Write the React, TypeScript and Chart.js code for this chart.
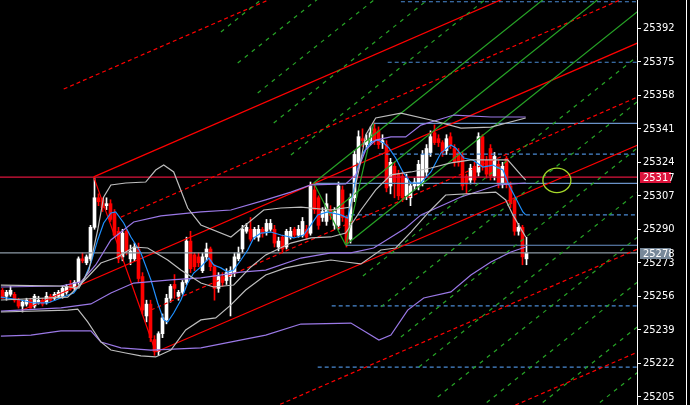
import { useEffect, useRef } from 'react';
import { Chart, registerables } from 'chart.js';

Chart.register(...registerables);

// candles, one per bar index
const opens = [
  25259, 25256, 25257, 25257, 25254, 25251, 25252, 25254, 25251, 25253, 25254, 25253, 25256, 25255, 25256, 25256,
  25258, 25262, 25260, 25263, 25275, 25273, 25275, 25291, 25306, 25305, 25302, 25303, 25298, 25289, 25276, 25289,
  25275, 25275, 25280, 25266, 25246, 25252, 25234, 25228, 25237, 25244, 25255, 25262, 25256, 25258, 25263, 25284,
  25277, 25276, 25269, 25276, 25280, 25271, 25260, 25266, 25264, 25266, 25268, 25275, 25280, 25289, 25290, 25286,
  25286, 25290, 25289, 25290, 25290, 25281, 25286, 25281, 25286, 25290, 25287, 25287, 25290, 25288, 25310, 25306,
  25296, 25294, 25300, 25292, 25292, 25310, 25296, 25285, 25306, 25324, 25336, 25333, 25334, 25341, 25340, 25334,
  25333, 25312, 25322, 25318, 25317, 25307, 25306, 25312, 25312, 25314, 25319, 25329, 25339, 25336, 25334, 25330,
  25337, 25331, 25329, 25327, 25317, 25315, 25322, 25319, 25337, 25325, 25331, 25317, 25323, 25313, 25326, 25312,
  25305, 25289, 25291, 25275,
];
const highs = [
  25260, 25259, 25261, 25258, 25255, 25254, 25255, 25255, 25257, 25256, 25255, 25258, 25257, 25258, 25259, 25261,
  25262, 25264, 25264, 25276, 25278, 25277, 25292, 25316, 25308, 25306, 25306, 25305, 25300, 25291, 25290, 25290,
  25282, 25283, 25283, 25268, 25254, 25254, 25236, 25238, 25247, 25257, 25262, 25267, 25259, 25264, 25286, 25289,
  25278, 25278, 25278, 25283, 25281, 25272, 25268, 25268, 25270, 25271, 25278, 25281, 25292, 25293, 25296, 25291,
  25292, 25291, 25295, 25295, 25292, 25286, 25287, 25290, 25291, 25291, 25292, 25296, 25292, 25314, 25312, 25307,
  25301, 25308, 25302, 25301, 25314, 25312, 25297, 25308, 25330, 25340, 25341, 25338, 25342, 25344, 25342, 25338,
  25335, 25326, 25324, 25320, 25319, 25318, 25314, 25316, 25325, 25330, 25333, 25340, 25343, 25338, 25335, 25338,
  25339, 25333, 25331, 25329, 25318, 25323, 25324, 25339, 25338, 25327, 25333, 25329, 25325, 25324, 25327, 25314,
  25306, 25293, 25292, 25286,
];
const lows = [
  25255, 25254, 25256, 25253, 25250, 25248, 25251, 25250, 25250, 25252, 25251, 25252, 25253, 25254, 25255, 25255,
  25257, 25259, 25259, 25262, 25273, 25272, 25274, 25290, 25302, 25299, 25300, 25294, 25286, 25273, 25274, 25277,
  25272, 25274, 25263, 25247, 25243, 25233, 25226, 25226, 25235, 25242, 25253, 25255, 25254, 25257, 25262, 25268,
  25269, 25271, 25268, 25274, 25269, 25254, 25258, 25261, 25262, 25246, 25266, 25274, 25278, 25288, 25284, 25285,
  25284, 25286, 25287, 25289, 25281, 25279, 25278, 25280, 25285, 25286, 25286, 25286, 25285, 25287, 25298, 25290,
  25294, 25292, 25295, 25290, 25290, 25294, 25281, 25283, 25304, 25322, 25332, 25331, 25333, 25333, 25331, 25331,
  25309, 25308, 25306, 25305, 25304, 25305, 25302, 25310, 25310, 25312, 25317, 25327, 25333, 25332, 25327, 25328,
  25331, 25322, 25322, 25310, 25308, 25313, 25313, 25317, 25320, 25316, 25315, 25315, 25311, 25311, 25311, 25301,
  25287, 25287, 25272, 25272,
];
const closes = [
  25255, 25258, 25259, 25254, 25251, 25253, 25254, 25250, 25256, 25254, 25252, 25256, 25254, 25257, 25258, 25260,
  25261, 25260, 25263, 25275, 25274, 25276, 25291, 25306, 25304, 25301, 25303, 25295, 25287, 25275, 25288, 25279,
  25279, 25281, 25265, 25249, 25252, 25235, 25228, 25237, 25245, 25255, 25261, 25260, 25258, 25263, 25284, 25270,
  25271, 25273, 25276, 25280, 25271, 25260, 25266, 25263, 25268, 25269, 25276, 25278, 25290, 25291, 25285, 25290,
  25290, 25288, 25293, 25293, 25283, 25284, 25280, 25289, 25289, 25287, 25290, 25294, 25286, 25312, 25300, 25292,
  25299, 25303, 25297, 25299, 25312, 25296, 25283, 25306, 25328, 25337, 25335, 25335, 25339, 25335, 25333, 25335,
  25311, 25324, 25314, 25307, 25306, 25316, 25312, 25314, 25323, 25328, 25331, 25337, 25334, 25334, 25329, 25336,
  25333, 25324, 25324, 25312, 25313, 25321, 25315, 25337, 25322, 25318, 25317, 25327, 25313, 25322, 25313, 25303,
  25289, 25291, 25276, 25278,
];

// indicator lines: [bar index, price]
const blueMa = [
  [-0.4, 25255.6], [4.6, 25254.1], [7.8, 25252.6], [11.3, 25252.6], [14.6, 25255.1], [17.8, 25257.7], [20.3, 25264.3],
  [22.1, 25272.9], [23.8, 25284.6], [25.3, 25293.2], [27.1, 25298.3], [28.3, 25298.8], [30.3, 25293.2], [32.1, 25286.1],
  [34.6, 25278.0], [37.1, 25264.3], [38.8, 25252.6], [40.3, 25244.0], [41.3, 25242.9], [42.8, 25247.5], [44.6, 25254.1],
  [46.3, 25262.7], [47.8, 25267.8], [49.6, 25270.9], [51.6, 25275.4], [52.8, 25271.9], [54.6, 25270.4], [56.3, 25268.3],
  [57.8, 25269.3], [59.6, 25274.4], [61.3, 25279.5], [62.8, 25285.6], [64.6, 25288.1], [67.1, 25288.6], [69.6, 25287.1],
  [72.8, 25285.6], [75.3, 25287.1], [77.1, 25292.2], [78.8, 25297.3], [81.3, 25298.8], [84.6, 25297.3], [86.3, 25295.7],
  [87.6, 25307.4], [88.8, 25321.1], [90.3, 25329.2], [92.1, 25334.3], [93.8, 25335.3], [95.3, 25333.8], [96.6, 25331.3],
  [98.3, 25326.2], [100.1, 25319.1], [102.1, 25313.5], [104.6, 25313.5], [107.1, 25319.1], [109.6, 25328.7],
  [112.1, 25332.8], [113.3, 25331.3], [115.3, 25326.2], [117.6, 25325.2], [120.1, 25321.6], [122.6, 25322.6],
  [125.1, 25320.1], [126.6, 25312.5], [128.3, 25305.9], [130.1, 25298.8], [130.8, 25297.3],
];
const purpleUpper = [
  [-0.4, 25260.7], [14.6, 25261.2], [19.6, 25263.3], [23.3, 25271.9], [27.1, 25284.6], [32.8, 25293.7], [39.6, 25296.8],
  [49.6, 25298.8], [57.1, 25299.8], [65.8, 25304.9], [72.1, 25308.9], [77.1, 25312.5], [85.8, 25313.0], [88.3, 25317.6],
  [90.8, 25330.3], [93.3, 25335.3], [97.1, 25336.9], [100.8, 25336.9], [104.6, 25342.9], [109.6, 25346.0],
  [112.8, 25348.0], [122.1, 25347.0], [130.8, 25347.0],
];
const purpleMid = [
  [-0.4, 25248.5], [14.6, 25250.1], [22.1, 25252.1], [27.1, 25257.7], [32.8, 25262.7], [42.1, 25264.3], [49.6, 25265.3],
  [59.6, 25268.3], [65.8, 25269.3], [74.6, 25275.4], [82.1, 25278.0], [87.1, 25278.0], [92.8, 25280.5], [100.8, 25290.7],
  [104.6, 25297.3], [114.6, 25306.4], [123.8, 25312.5], [130.8, 25313.5],
];
const purpleLower = [
  [-0.4, 25235.8], [7.1, 25236.3], [14.6, 25238.4], [22.1, 25238.4], [24.6, 25232.8], [29.6, 25229.8], [37.1, 25228.7],
  [49.6, 25229.8], [65.8, 25236.3], [74.6, 25241.9], [87.1, 25242.4], [90.8, 25237.9], [94.1, 25233.8], [97.1, 25236.3],
  [101.3, 25249.0], [105.3, 25255.1], [112.1, 25258.2], [117.1, 25266.8], [122.1, 25273.4], [127.1, 25278.5],
  [130.8, 25281.0],
];
const grayUpper = [
  [-0.4, 25261.7], [14.6, 25261.2], [19.1, 25260.2], [21.6, 25269.3], [23.8, 25289.6], [25.3, 25306.4], [27.1, 25312.5],
  [30.8, 25313.5], [35.8, 25314.0], [38.3, 25320.1], [40.3, 25322.6], [42.8, 25319.1], [46.3, 25300.8], [49.6, 25292.2],
  [57.1, 25286.1], [65.3, 25299.8], [69.6, 25300.8], [74.6, 25301.3], [82.1, 25299.8], [87.1, 25301.3], [89.1, 25320.1],
  [90.8, 25337.9], [93.3, 25346.5], [99.6, 25349.0], [107.1, 25345.5], [114.6, 25341.4], [122.1, 25341.9],
  [130.8, 25346.5],
];
const grayMid = [
  [-0.4, 25254.1], [16.3, 25255.6], [21.3, 25265.8], [24.6, 25272.9], [28.8, 25275.9], [32.8, 25281.0], [36.3, 25280.5],
  [41.3, 25274.4], [44.6, 25269.3], [49.6, 25262.7], [52.8, 25260.7], [57.8, 25261.7], [62.1, 25270.9], [65.8, 25277.0],
  [72.1, 25283.0], [77.1, 25285.6], [82.1, 25286.1], [85.8, 25288.1], [89.6, 25299.8], [93.3, 25310.0], [97.1, 25317.6],
  [102.1, 25319.1], [107.1, 25321.1], [112.1, 25323.7], [117.1, 25325.2], [122.1, 25325.2], [126.3, 25325.2],
  [129.6, 25317.6], [130.8, 25315.0],
];
const grayLower = [
  [-0.4, 25248.0], [16.3, 25249.0], [18.8, 25249.5], [21.3, 25243.0], [24.6, 25232.8], [27.1, 25228.7], [30.8, 25227.2],
  [34.6, 25225.7], [38.3, 25225.2], [42.1, 25228.7], [45.8, 25238.9], [49.6, 25244.0], [53.3, 25245.0], [57.1, 25251.6],
  [60.8, 25259.2], [65.8, 25266.8], [70.8, 25270.4], [75.8, 25272.4], [82.1, 25274.4], [85.8, 25273.4], [89.6, 25272.4],
  [94.6, 25279.5], [98.3, 25280.5], [102.1, 25288.6], [106.6, 25298.8], [110.8, 25307.4], [119.1, 25308.4],
  [123.3, 25308.9], [125.8, 25304.9], [127.6, 25297.3], [130.8, 25286.1],
];

// drawn objects: [x0, price0, x1, price1]
const redForkLines = [
  [22.8, 25316.6, 158.8, 25436.7],
  [5.0, 25249.0, 158.8, 25384.6],
  [38.3, 25227.7, 158.8, 25332.8],
  [22.8, 25316.6, 38.3, 25227.7],
];
const redDashLines = [
  [15.3, 25361.2, 158.8, 25488.0],
  [29.6, 25296.2, 158.8, 25410.3],
  [37.1, 25249.0, 158.8, 25357.2],
  [64.6, 25196.9, 158.8, 25280.0],
  [125.0, 25197.9, 158.8, 25227.7],
];
const greenSolidLines = [
  [77.8, 25313.5, 158.8, 25445.0],
  [81.8, 25297.8, 158.8, 25422.8],
  [85.8, 25282.0, 158.8, 25400.6],
  [77.8, 25313.5, 85.8, 25282.0],
  [85.8, 25282.0, 92.8, 25343.8],
];
const greenDashLines = [
  [54.6, 25390.2, 158.8, 25559.4],
  [58.8, 25374.4, 158.8, 25536.8],
  [63.8, 25359.2, 158.8, 25513.5],
  [67.8, 25344.0, 158.8, 25491.8],
  [72.1, 25327.7, 158.8, 25468.5],
  [90.1, 25266.3, 158.8, 25377.9],
  [94.6, 25250.6, 158.8, 25354.9],
  [99.6, 25235.3, 158.8, 25331.4],
  [104.1, 25220.1, 158.8, 25308.9],
  [108.8, 25204.9, 158.8, 25286.1],
  [119.3, 25199.2, 158.8, 25263.3],
  [133.3, 25199.2, 158.8, 25240.6],
  [147.6, 25199.2, 158.8, 25217.4],
];
// horizontal levels: [start index, price]
const levelSolid = [[92.8, 25343.8], [77.8, 25313.3], [85.8, 25281.9]];
const levelDashed = [[99.6, 25405.5], [96.3, 25374.8], [94.1, 25328.2], [87.1, 25297.3], [82.3, 25251.1], [78.8, 25220.0]];
const highLevel = 25316.5;
const bidLevel = 25278;
const circleCenter = [138.6, 25314.8];
const circleRadius = [3.5, 6.2];

const priceTicks = [25205, 25222, 25239, 25256, 25273, 25290, 25307, 25324, 25341, 25358, 25375, 25392];
const X_MIN = -0.625;
const X_MAX = X_MIN + 637 / 4;
const Y_MIN = 25200.8;
const Y_MAX = 25406.4;

const FONT = '"Liberation Sans Narrow", "DejaVu Sans Condensed", "Liberation Sans", sans-serif';

function lineDs(points: number[][], color: string, dash: number[] = [], width = 1.2) {
  return {
    type: 'line' as const,
    data: points.map(([x, y]) => ({ x, y })),
    borderColor: color,
    borderWidth: width,
    borderDash: dash,
    pointRadius: 0,
    tension: 0,
    fill: false,
    order: 1,
  };
}

const overlay = {
  id: 'overlay',
  beforeDraw(chart: Chart) {
    const { ctx } = chart;
    ctx.save();
    ctx.fillStyle = '#000';
    ctx.fillRect(0, 0, chart.width, chart.height);
    ctx.restore();
  },
  afterDraw(chart: Chart) {
    const { ctx, chartArea } = chart;
    const xs = chart.scales.x;
    const ys = chart.scales.y;
    ctx.save();
    // marker ellipse
    const cx = xs.getPixelForValue(circleCenter[0]);
    const cy = ys.getPixelForValue(circleCenter[1]);
    const rx = Math.abs(xs.getPixelForValue(circleCenter[0] + circleRadius[0]) - cx);
    const ry = Math.abs(ys.getPixelForValue(circleCenter[1] + circleRadius[1]) - cy);
    ctx.strokeStyle = '#a6d92a';
    ctx.lineWidth = 1.3;
    ctx.beginPath();
    ctx.ellipse(cx, cy, rx, ry, 0, 0, Math.PI * 2);
    ctx.stroke();
    // price tags on the axis
    const tags: [number, string][] = [[highLevel, '#dc143c'], [bidLevel, '#778899']];
    ctx.font = `11px ${FONT}`;
    ctx.textBaseline = 'middle';
    for (const [v, color] of tags) {
      const py = Math.round(ys.getPixelForValue(v));
      ctx.fillStyle = color;
      ctx.fillRect(chartArea.right + 3, py - 5, 31, 11);
      ctx.fillStyle = '#fff';
      ctx.fillText(String(Math.round(v)), chartArea.right + 6, py + 1);
    }
    // window frame on the right
    ctx.fillStyle = '#fff';
    ctx.fillRect(chart.width - 4, 0, 1, chart.height);
    ctx.restore();
  },
};

export default function App() {
  const canvasRef = useRef<HTMLCanvasElement>(null);

  useEffect(() => {
    if (!canvasRef.current) return;
    const candleColors = opens.map((o, i) => (closes[i] >= o ? '#ffffff' : '#ff0000'));

    const datasets: any[] = [
      {
        type: 'bar',
        data: opens.map((_, i) => ({ x: i, y: [lows[i], highs[i]] })),
        backgroundColor: candleColors,
        barThickness: 1,
        grouped: false,
        borderWidth: 0,
        order: 20,
      },
      {
        type: 'bar',
        data: opens.map((o, i) => ({ x: i, y: [o, closes[i]] })),
        backgroundColor: candleColors,
        barThickness: 3,
        minBarLength: 1,
        grouped: false,
        borderWidth: 0,
        order: 19,
      },
      lineDs(grayUpper, '#bdbdbd'),
      lineDs(grayMid, '#bdbdbd'),
      lineDs(grayLower, '#bdbdbd'),
      lineDs(purpleUpper, '#9a78e6'),
      lineDs(purpleMid, '#9a78e6'),
      lineDs(purpleLower, '#9a78e6'),
      lineDs(blueMa, '#1e90ff'),
      ...greenDashLines.map(([a, b, c, d]) => lineDs([[a, b], [c, d]], '#26a326', [4, 5])),
      ...greenSolidLines.map(([a, b, c, d]) => lineDs([[a, b], [c, d]], '#26a326')),
      ...redDashLines.map(([a, b, c, d]) => lineDs([[a, b], [c, d]], '#ff0000', [4, 3])),
      ...redForkLines.map(([a, b, c, d]) => lineDs([[a, b], [c, d]], '#ff0000')),
      ...levelDashed.map(([a, p]) => lineDs([[a, p], [X_MAX, p]], '#4a8ad4', [4, 3])),
      ...levelSolid.map(([a, p]) => lineDs([[a, p], [X_MAX, p]], '#6a92c8')),
      lineDs([[X_MIN, highLevel], [X_MAX, highLevel]], '#dc143c'),
      lineDs([[X_MIN, bidLevel], [X_MAX, bidLevel]], '#8c9aa6'),
    ];

    const chart = new Chart(canvasRef.current, {
      type: 'bar',
      data: { datasets },
      plugins: [overlay],
      options: {
        animation: false,
        responsive: false,
        events: [],
        layout: { padding: 0 },
        plugins: { legend: { display: false }, tooltip: { enabled: false } },
        scales: {
          x: { type: 'linear', min: X_MIN, max: X_MAX, offset: false, display: false },
          y: {
            type: 'linear',
            position: 'right',
            min: Y_MIN,
            max: Y_MAX,
            beginAtZero: false,
            border: { display: true, color: '#ffffff', width: 1 },
            grid: { drawOnChartArea: false, drawTicks: true, tickLength: 4, color: '#ffffff' },
            ticks: {
              color: '#ffffff',
              padding: 2,
              autoSkip: false,
              font: { family: FONT, size: 11 },
              callback: (v: any) => String(v),
            },
            afterBuildTicks: (scale: any) => {
              scale.ticks = priceTicks.map((value) => ({ value }));
            },
            afterFit: (scale: any) => {
              scale.width = 53;
              scale.paddingTop = 0;
              scale.paddingBottom = 0;
            },
          },
        },
      } as any,
    });

    return () => chart.destroy();
  }, []);

  return (
    <div style={{ position: 'fixed', left: 0, top: 0, width: 690, height: 405, background: '#000' }}>
      <canvas ref={canvasRef} width={690} height={405} style={{ display: 'block' }} />
    </div>
  );
}
